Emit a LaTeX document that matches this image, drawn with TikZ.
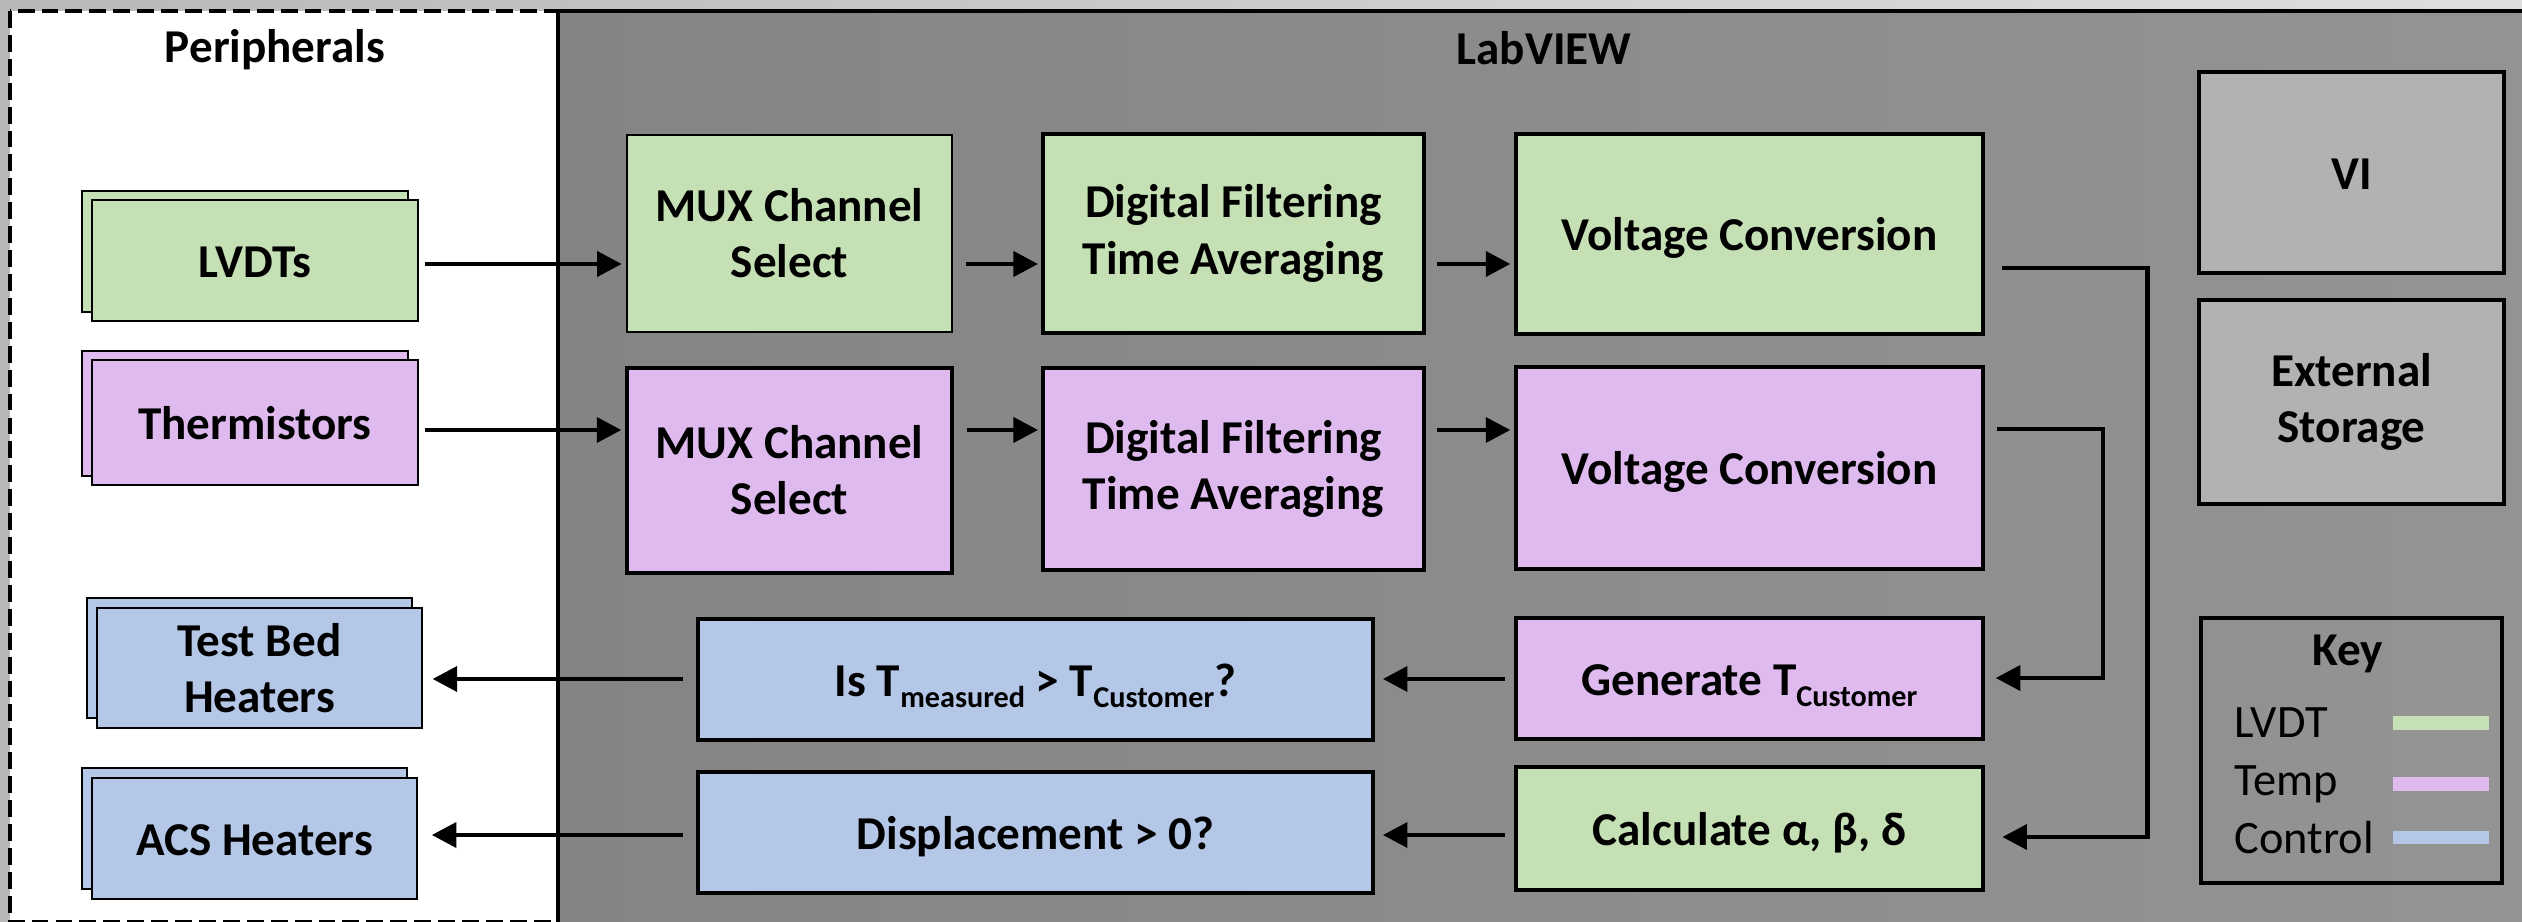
\documentclass[tikz,border=0pt]{standalone}
\usepackage{fontspec}
\setmainfont{Carlito}
\usetikzlibrary{arrows.meta,calc}
\definecolor{lgreen}{HTML}{C5E0B4}
\definecolor{lpurple}{HTML}{DFBAEE}
\definecolor{lblue}{HTML}{B4C7E7}
\definecolor{boxgray}{HTML}{B2B2B2}
\definecolor{lvL}{HTML}{848484}
\definecolor{lvR}{HTML}{949494}
\definecolor{pgL}{HTML}{B8B8B8}
\definecolor{pgR}{HTML}{DEDEDE}
\newcommand\sbx[1]{\raisebox{-3.1pt}{\fontsize{8.6}{9}\selectfont #1}}
\begin{document}
\begin{tikzpicture}[x=0.01cm,y=-0.01cm,
  txt/.style={font=\fontsize{13.4}{16}\selectfont\bfseries, align=center, text=black},
  wh/.style 2 args={minimum width=#1*0.01cm, minimum height=#2*0.01cm},
  proc/.style={txt, draw=black, line width=1pt, inner sep=0pt},
  one/.style={text height=9.5pt, text depth=0pt},
  per/.style={proc, line width=0.8pt},
  arr/.style={line width=1.4pt, -{Triangle[length=7pt,width=7pt]}},
  keytxt/.style={font=\fontsize{13.2}{16}\selectfont, text=black, inner sep=0pt}
]
\useasboundingbox (0,0) rectangle (2522,922);
\clip (0,0) rectangle (2522,922);
% page background
\fill[left color=pgL, right color=pgR] (0,0) rectangle (2522,922);
% peripherals area
\fill[white] (10,11) rectangle (558,922);
\draw[dash pattern=on 4.8pt off 2pt, line width=1.1pt] (10,11) rectangle (558,922);
% LabVIEW area
\draw[line width=1.2pt, left color=lvL, right color=lvR] (558,11) rectangle (2580,980);

% titles
\node[txt, anchor=base] (ptitle) at (275,63) {Peripherals};
\node[txt, anchor=base] (ltitle) at (1544,65) {LabVIEW};

% peripherals (stacked)
\node[per, fill=lgreen, wh={326}{121}] (lvdtb) at (245,251.5) {};
\node[per, one, fill=lgreen, wh={326}{121}] (lvdt) at (255,260.5) {LVDTs};
\node[per, fill=lpurple, wh={326}{125}] (thermb) at (245,413.5) {};
\node[per, one, fill=lpurple, wh={326}{125}] (therm) at (255,422.5) {Thermistors};
\node[per, fill=lblue, wh={325}{120}] (testbedb) at (249.5,658) {};
\node[per, fill=lblue, wh={325}{120}] (testbed) at (259.5,668) {Test Bed\\Heaters};
\node[per, fill=lblue, wh={325}{121}] (acsb) at (244.5,828.5) {};
\node[per, one, fill=lblue, wh={325}{121}] (acs) at (254.5,838.5) {ACS Heaters};

% LabVIEW processing blocks
\node[proc, fill=lgreen, wh={325}{197}, line width=0.8pt] (mux1) at (789.5,233.5) {MUX Channel\\Select};
\node[proc, fill=lpurple, wh={325}{205}] (mux2) at (789.5,470.5) {MUX Channel\\Select};
\node[proc, fill=lgreen, wh={381}{199}] (df1) at (1233.5,233.5) {Digital Filtering\\Time Averaging};
\node[proc, fill=lpurple, wh={381}{202}] (df2) at (1233.5,469) {Digital Filtering\\Time Averaging};
\node[proc, one, fill=lgreen, wh={467}{200}] (vc1) at (1749.5,234) {Voltage Conversion};
\node[proc, one, fill=lpurple, wh={467}{202}] (vc2) at (1749.5,468) {Voltage Conversion};
\node[proc, one, fill=lpurple, wh={467}{121}] (gen) at (1749.5,678.5) {Generate T\sbx{Customer}};
\node[proc, one, fill=lgreen, wh={467}{123}] (calc) at (1749.5,828.5) {Calculate α, β, δ};
\node[proc, one, fill=lblue, wh={675}{121}] (ist) at (1035.5,679.5) {Is T\sbx{measured} > T\sbx{Customer}?};
\node[proc, one, fill=lblue, wh={675}{121}] (disp) at (1035.5,832.5) {Displacement > 0?};
\node[proc, one, fill=boxgray, wh={305}{201}, line width=1.1pt] (vi) at (2351.5,172.5) {VI};
\node[proc, fill=boxgray, wh={305}{204}, line width=1.1pt] (ext) at (2351.5,402) {External\\Storage};

% key
\node[proc, wh={301}{265}, line width=1.1pt] (key) at (2351.5,750.5) {};
\node[txt, anchor=base, inner sep=0pt] (keyt) at (2348,665) {Key};
\node[keytxt, anchor=base west] (klvdt) at (2234,737) {LVDT};
\node[keytxt, anchor=base west] (ktemp) at (2234,795) {Temp};
\node[keytxt, anchor=base west] (kctrl) at (2234,853) {Control};
\fill[lgreen] (2393,716) rectangle (2489,730);
\fill[lpurple] (2393,777) rectangle (2489,791);
\fill[lblue] (2393,831) rectangle (2489,844);

% rows for connectors
\coordinate (rA) at (0,264);
\coordinate (rB) at (0,430);
\coordinate (rC) at (0,679);
\coordinate (rD) at (0,835);
\coordinate (j1) at (2147,268);
\coordinate (j1b) at (2147,837);
\coordinate (j2) at (2103,429);
\coordinate (j2b) at (2103,678);

% connectors
\draw[arr, shorten <=1.7pt, shorten >=1.1pt] (lvdt.east |- rA) -- (mux1.west |- rA);
\draw[arr, shorten <=1.7pt, shorten >=1.1pt] (therm.east |- rB) -- (mux2.west |- rB);
\draw[arr, shorten <=3.7pt, shorten >=0.9pt] (mux1.east |- rA) -- (df1.west |- rA);
\draw[arr, shorten <=3.7pt, shorten >=0.9pt] (mux2.east |- rB) -- (df2.west |- rB);
\draw[arr, shorten <=3.1pt, shorten >=1.1pt] (df1.east |- rA) -- (vc1.west |- rA);
\draw[arr, shorten <=3.1pt, shorten >=1.1pt] (df2.east |- rB) -- (vc2.west |- rB);
\draw[arr, shorten <=4.8pt, shorten >=5pt] (vc1.east |- j1) -- (j1) -- (j1b) -- (calc.east |- j1b);
\draw[arr, shorten <=3.4pt, shorten >=3.1pt] (vc2.east |- j2) -- (j2) -- (j2b) -- (gen.east |- j2b);
\draw[arr, shorten <=2.6pt, shorten >=2.3pt] (gen.west |- rC) -- (ist.east |- rC);
\draw[arr, shorten <=2.6pt, shorten >=2.3pt] (calc.west |- rD) -- (disp.east |- rD);
\draw[arr, shorten <=3.7pt, shorten >=2.6pt] (ist.west |- rC) -- (testbed.east |- rC);
\draw[arr, shorten <=3.7pt, shorten >=3.8pt] (disp.west |- rD) -- (acs.east |- rD);
\end{tikzpicture}
\end{document}
